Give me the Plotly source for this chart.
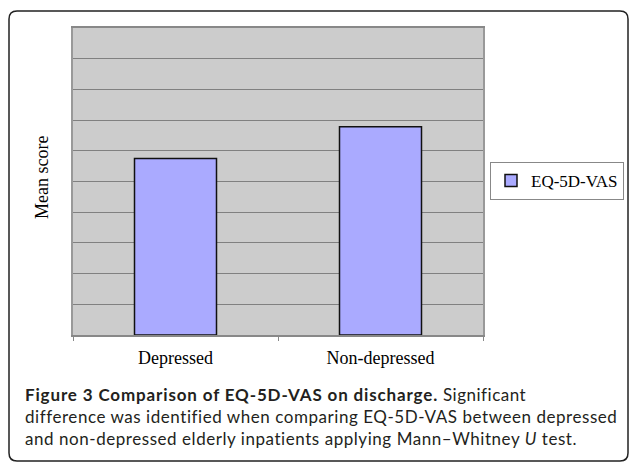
import plotly.graph_objects as go

categories = ["Depressed", "Non-depressed"]
eq5d_vas = [57.5, 67.8]
series_name = "EQ-5D-VAS"
y_title = "Mean score"
caption_bold = "Figure 3 Comparison of EQ-5D-VAS on discharge."
caption_lines = [
    " Significant",
    "difference was identified when comparing EQ-5D-VAS between depressed",
    "and non-depressed elderly inpatients applying Mann\u2013Whitney <i>U</i> test.",
]

W, H = 629, 463
L, R, T, B = 73, 483, 28, 335
pw, ph = R - L, B - T


def px(x):
    return (x - L) / pw


def py(y):
    return (B - y) / ph


fig = go.Figure()
fig.add_trace(go.Bar(
    x=categories, y=eq5d_vas, name=series_name, width=0.4,
    marker=dict(color="#aaaaff", line=dict(color="#111111", width=1.5)),
    showlegend=True,
))

serif = "Liberation Serif, Times New Roman, serif"
cap_font = "Lato, DejaVu Sans Condensed, sans-serif"

r = 8
x0, y0, x1, y1 = 9, 11, 628, 461
path = (
    f"M {px(x0)},{py(y1 - r)} L {px(x0)},{py(y0 + r)} "
    f"Q {px(x0)},{py(y0)} {px(x0 + r)},{py(y0)} "
    f"L {px(x1 - r)},{py(y0)} Q {px(x1)},{py(y0)} {px(x1)},{py(y0 + r)} "
    f"L {px(x1)},{py(y1 - r)} Q {px(x1)},{py(y1)} {px(x1 - r)},{py(y1)} "
    f"L {px(x0 + r)},{py(y1)} Q {px(x0)},{py(y1)} {px(x0)},{py(y1 - r)} Z"
)

caption_html = (
    f'<span style="letter-spacing:0.85px"><b>{caption_bold}</b></span>'
    f'<span style="letter-spacing:0.5px">{caption_lines[0]}</span><br>'
    f'<span style="letter-spacing:0.55px">{caption_lines[1]}</span><br>'
    f'<span style="letter-spacing:0.55px">{caption_lines[2]}</span>'
)

annotations = [
    dict(x=px(42), y=py(178), xref="paper", yref="paper", text=y_title,
         textangle=-90, showarrow=False, font=dict(family=serif, size=18, color="#000"),
         xanchor="center", yanchor="middle"),
    dict(x=px(23), y=py(416), xref="paper", yref="paper", text=caption_html,
         showarrow=False, align="left", xanchor="left", yanchor="middle",
         font=dict(family=cap_font, size=17, color="#231f20")),
]

fig.update_layout(
    width=W, height=H,
    margin=dict(l=L, r=W - R, t=T, b=H - B, pad=0, autoexpand=False),
    paper_bgcolor="white", plot_bgcolor="#cccccc",
    xaxis=dict(showgrid=False, showline=True, linecolor="#888888", linewidth=1.5, mirror=True,
               ticks="outside", ticklen=4, tickcolor="#888888", tickson="boundaries",
               tickfont=dict(family=serif, size=18, color="#000"), ticklabelstandoff=6),
    yaxis=dict(range=[0, 100], dtick=10, showgrid=True, gridcolor="#808080", gridwidth=1.3,
               showticklabels=False, ticks="", showline=True, linecolor="#999999",
               linewidth=1.5, mirror=True, zeroline=False),
    legend=dict(x=px(490), y=py(181), xanchor="left", yanchor="middle",
                bordercolor="#888888", borderwidth=1, bgcolor="white", itemwidth=30,
                font=dict(family=serif, size=17, color="#000")),
    shapes=[dict(type="path", path=path, xref="paper", yref="paper",
                 line=dict(color="#222222", width=1.5), layer="below")],
    annotations=annotations,
    showlegend=True,
)

fig.write_html(
    "out.html",
    config={"displayModeBar": False},
    post_script="document.body.style.margin='0';document.body.style.overflow='hidden';",
)
